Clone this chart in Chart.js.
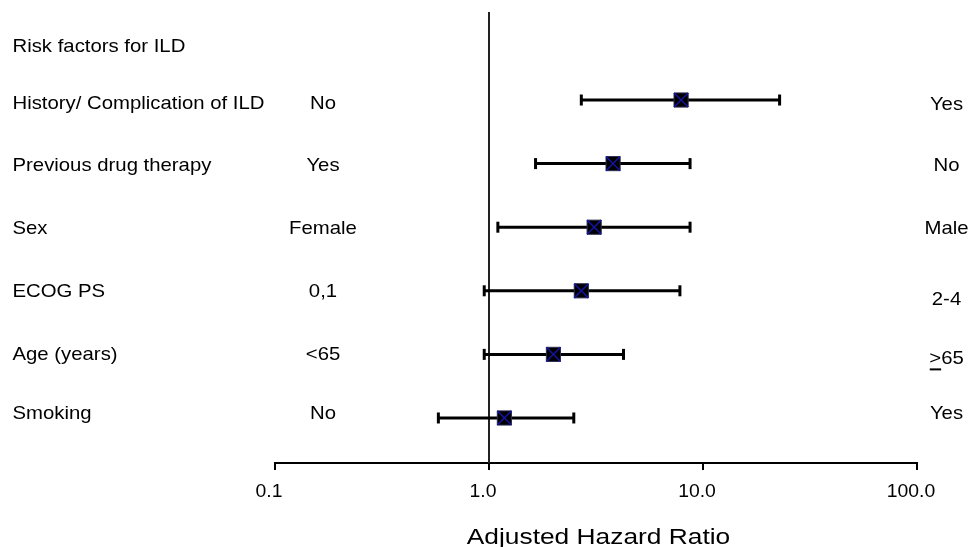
<!DOCTYPE html>
<html>
<head>
<meta charset="utf-8">
<script src="https://cdn.jsdelivr.net/npm/chart.js@4.4.1/dist/chart.umd.min.js"></script>
<style>
html,body{margin:0;padding:0;background:#fff;}
#wrap{width:971px;height:547px;position:relative;}
</style>
</head>
<body>
<div id="wrap"><canvas id="c" width="971" height="547"></canvas></div>
<script>
// ---------- data ----------
const headerLabel = 'Risk factors for ILD';
const factors = ['History/ Complication of ILD', 'Previous drug therapy', 'Sex', 'ECOG PS', 'Age (years)', 'Smoking'];
const refGroups = ['No', 'Yes', 'Female', '0,1', '<65', 'No'];
const cmpGroups = ['Yes', 'No', 'Male', '2-4', '\u226565', 'Yes'];
const hazardRatio = [7.9, 3.8, 3.1, 2.7, 2.0, 1.18];
const ciLower = [2.7, 1.65, 1.1, 0.95, 0.95, 0.58];
const ciUpper = [22.8, 8.7, 8.7, 7.8, 4.25, 2.49];
const tickValues = [0.1, 1, 10, 100];
const tickLabels = ['0.1', '1.0', '10.0', '100.0'];
const axisTitle = 'Adjusted Hazard Ratio';

// ---------- layout / style ----------
const W = 971, H = 547;
const FONT = '"Liberation Sans", Arial, Helvetica, sans-serif';
const AXIS_Y = 463;
const LABEL_SIZE = 19, LABEL_SX = 1.07;
const leftDy = [2.5, 0.5, 0.3, -0.7, -1.3, -6];
const rightDy = [3, 0.5, 0.3, 7.3, 2.7, -6];
const FACTOR_X = 12.5, REF_X = 323, CMP_X = 946.5;

const rowY = factors.map((_, i) => i + 1);

function txt(ctx, s, x, y, size, sx, align) {
  ctx.save();
  ctx.font = size + 'px ' + FONT;
  ctx.textBaseline = 'alphabetic';
  ctx.textAlign = 'left';
  ctx.fillStyle = '#000';
  const w = ctx.measureText(s).width * sx;
  const x0 = align === 'center' ? x - w / 2 : (align === 'right' ? x - w : x);
  ctx.translate(x0, y);
  ctx.scale(sx, 1);
  ctx.fillText(s, 0, 0);
  ctx.restore();
  return { x0: x0, w: w };
}

const ciSets = factors.map((f, i) => ({
  label: f,
  data: [{ x: ciLower[i], y: rowY[i] }, { x: ciUpper[i], y: rowY[i] }],
  showLine: true,
  borderColor: '#000',
  borderWidth: 3,
  borderCapStyle: 'butt',
  pointStyle: 'line',
  pointRotation: 90,
  pointRadius: 5.5,
  pointBorderWidth: 3,
  pointBorderColor: '#000',
  pointBackgroundColor: '#000',
  order: 3
}));

const hrPoints = hazardRatio.map((v, i) => ({ x: v, y: rowY[i] }));

const markerSet = {
  label: 'HR',
  data: hrPoints,
  pointStyle: 'rect',
  pointRadius: 10,
  pointBackgroundColor: '#000',
  pointBorderColor: '#2b2b55',
  pointBorderWidth: 1,
  order: 2
};
const crossSet = {
  label: 'HR-x',
  data: hrPoints,
  pointStyle: 'crossRot',
  pointRadius: 10,
  pointBorderColor: '#1414a0',
  pointBorderWidth: 1.5,
  order: 1
};

const forestPlugin = {
  id: 'forest',
  beforeDatasetsDraw(chart) {
    const { ctx, chartArea, scales } = chart;
    const px = scales.x.getPixelForValue(1);
    ctx.save();
    ctx.strokeStyle = '#222';
    ctx.lineWidth = 2;
    ctx.beginPath();
    ctx.moveTo(px, chartArea.top);
    ctx.lineTo(px, chartArea.bottom);
    ctx.stroke();
    ctx.restore();
  },
  afterDraw(chart) {
    const { ctx, chartArea, scales } = chart;
    const ys = scales.y, xs = scales.x;
    const base = 0.358 * LABEL_SIZE;
    // header
    txt(ctx, headerLabel, FACTOR_X, ys.getPixelForValue(0) + 8.6 + base, LABEL_SIZE, LABEL_SX, 'left');
    factors.forEach((f, i) => {
      const py = ys.getPixelForValue(rowY[i]);
      txt(ctx, f, FACTOR_X, py + leftDy[i] + base, LABEL_SIZE, LABEL_SX, 'left');
      txt(ctx, refGroups[i], REF_X, py + leftDy[i] + base, LABEL_SIZE, LABEL_SX, 'center');
      const s = cmpGroups[i];
      if (s.charAt(0) === '\u2265') {
        // drawn as an underlined ">" like the original
        const shown = '>' + s.slice(1);
        const yb = py + rightDy[i] + base;
        const r = txt(ctx, shown, CMP_X, yb, LABEL_SIZE, LABEL_SX, 'center');
        ctx.save();
        ctx.font = LABEL_SIZE + 'px ' + FONT;
        const gw = ctx.measureText('>').width * LABEL_SX;
        ctx.strokeStyle = '#000';
        ctx.lineWidth = 2;
        ctx.beginPath();
        ctx.moveTo(r.x0 + 0.5, yb + 5.5);
        ctx.lineTo(r.x0 + gw, yb + 5.5);
        ctx.stroke();
        ctx.restore();
      } else {
        txt(ctx, s, CMP_X, py + rightDy[i] + base, LABEL_SIZE, LABEL_SX, 'center');
      }
    });
    // tick labels
    xs.ticks.forEach((t) => {
      const px = xs.getPixelForValue(t.value);
      const lab = tickLabels[tickValues.indexOf(t.value)];
      if (lab !== undefined) txt(ctx, lab, px - 6, xs.top + 33.8, 19, 1.02, 'center');
    });
    // axis title
    txt(ctx, axisTitle, (chartArea.left + chartArea.right) / 2 + 2.5, xs.top + 81, 22.5, 1.17, 'center');
  }
};

new Chart(document.getElementById('c'), {
  type: 'scatter',
  data: { datasets: [crossSet, markerSet].concat(ciSets) },
  options: {
    responsive: false,
    devicePixelRatio: 1,
    animation: false,
    layout: { padding: { left: 275, right: 54, top: 12, bottom: 0 } },
    plugins: { legend: { display: false }, tooltip: { enabled: false } },
    events: [],
    scales: {
      x: {
        type: 'logarithmic',
        position: 'bottom',
        min: 0.1,
        max: 100,
        afterBuildTicks: s => { s.ticks = tickValues.map(v => ({ value: v })); },
        afterFit: s => { s.height = H - AXIS_Y; },
        ticks: { display: false },
        grid: { display: true, drawOnChartArea: false, drawTicks: true, tickLength: 7, color: '#000', lineWidth: 2 },
        border: { display: true, color: '#000', width: 2 }
      },
      y: {
        type: 'linear',
        display: false,
        reverse: true,
        min: -0.384,
        max: 6.708
      }
    }
  },
  plugins: [forestPlugin]
});
</script>
</body>
</html>
